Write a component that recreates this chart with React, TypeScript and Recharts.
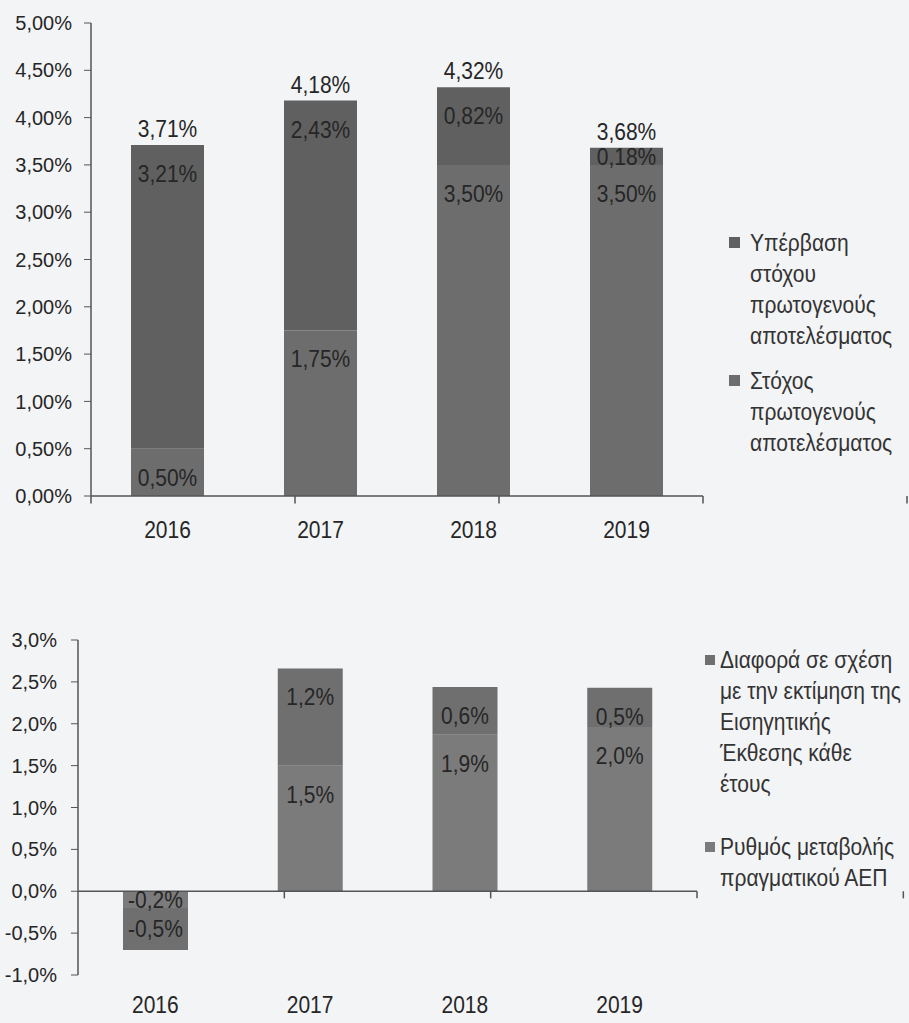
import { Bar, BarChart, LabelList, ReferenceLine, XAxis, YAxis } from 'recharts'

const YEARS = ['2016', '2017', '2018', '2019']

// top chart: primary balance target and overshoot (% of GDP)
const TARGET = [0.5, 1.75, 3.5, 3.5]
const OVERSHOOT = [3.21, 2.43, 0.82, 0.18]
const TOP_TICKS = [0, 0.5, 1, 1.5, 2, 2.5, 3, 3.5, 4, 4.5, 5]

// bottom chart: real GDP growth and difference from the budget report estimate
const GDP_GROWTH = [-0.2, 1.5, 1.87, 1.96]
const GDP_DIFF = [-0.5, 1.16, 0.57, 0.47]
const BOTTOM_TICKS = [-1, -0.5, 0, 0.5, 1, 1.5, 2, 2.5, 3]

const EDGES = [0, 1, 2, 3, 4]

const C_OVER = '#606060'
const C_TARGET = '#6d6d6d'
const C_DIFF = '#6f6f6f'
const C_GROWTH = '#7b7b7b'

const TOP_LEGEND = [
  { lines: ['Υπέρβαση', 'στόχου', 'πρωτογενούς', 'αποτελέσματος'], color: C_OVER },
  { lines: ['Στόχος', 'πρωτογενούς', 'αποτελέσματος'], color: C_TARGET },
]
const BOTTOM_LEGEND = [
  {
    lines: ['Διαφορά σε σχέση', 'με την εκτίμηση της', 'Εισηγητικής', 'Έκθεσης κάθε', 'έτους'],
    color: C_DIFF,
  },
  { lines: ['Ρυθμός μεταβολής', 'πραγματικού ΑΕΠ'], color: C_GROWTH },
]

const FONT = "'Liberation Sans', Arial, sans-serif"
const TEXT = '#262626'
const AXIS = '#555'
const SQUEEZE = 0.875 // the scan's text is condensed

const topData = YEARS.map((year, i) => ({
  year,
  target: TARGET[i],
  overshoot: OVERSHOOT[i],
  total: TARGET[i] + OVERSHOOT[i],
}))

const bottomData = YEARS.map((year, i) => ({
  year,
  growth: GDP_GROWTH[i],
  diff: GDP_DIFF[i],
}))

const pct = (digits: number) => (v: number) => {
  const s = Math.abs(v) < 1e-9 ? (0).toFixed(digits) : v.toFixed(digits)
  return s.replace('.', ',') + '%'
}

function Narrow({ x, y, children, dy }: any) {
  return (
    <text
      transform={`translate(${x} ${y}) scale(${SQUEEZE} 1)`}
      dy={dy}
      textAnchor="middle"
      fontSize={24}
      fontFamily={FONT}
      fill={TEXT}
    >
      {children}
    </text>
  )
}

function SegmentLabel(props: any) {
  const { x, y, width, height, value, digits } = props
  if (value == null) return null
  const top = Math.min(y, y + height)
  const h = Math.abs(height)
  const ty = value < 0 ? top + h / 2 + 8 : top + Math.min(37, h)
  return <Narrow x={x + width / 2} y={ty}>{pct(digits)(value)}</Narrow>
}

function TotalLabel(props: any) {
  const { x, y, width, value } = props
  return <Narrow x={x + width / 2} y={y - 8}>{pct(2)(value)}</Narrow>
}

function YearTick(props: any) {
  const { x, y, payload } = props
  return <Narrow x={x} y={y} dy="0.71em">{payload.value}</Narrow>
}

function HtmlLegend({ items, left, top, box, gap, itemGap }: any) {
  return (
    <div
      style={{
        position: 'absolute',
        left,
        top,
        fontFamily: FONT,
        fontSize: 24,
        lineHeight: '31px',
        color: '#333',
        whiteSpace: 'nowrap',
      }}
    >
      {items.map((item: any) => (
        <div key={item.lines[0]} style={{ display: 'flex', marginBottom: itemGap }}>
          <div
            style={{
              width: box,
              height: box,
              background: item.color,
              marginTop: 15.5 - box / 2,
              marginRight: gap,
              flexShrink: 0,
            }}
          />
          <div style={{ transform: `scaleX(${SQUEEZE})`, transformOrigin: 'left top' }}>
            {item.lines.map((l: string) => (
              <div key={l}>{l}</div>
            ))}
          </div>
        </div>
      ))}
    </div>
  )
}

export default function App() {
  return (
    <div style={{ position: 'absolute', left: 0, top: 0, width: 909, height: 1023, background: '#f3f4f6', overflow: 'hidden' }}>
      <div style={{ position: 'absolute', left: 0, top: 0 }}>
        <BarChart width={909} height={560} data={topData} margin={{ top: 23, right: 206, bottom: 24, left: 0 }}>
          <XAxis
            dataKey="year"
            axisLine={{ stroke: AXIS, strokeWidth: 1.5 }}
            tickLine={false}
            height={40}
            tickMargin={19}
            tick={<YearTick />}
          />
          <XAxis xAxisId="edge" type="number" domain={[0, 4]} allowDataOverflow hide />
          <YAxis
            width={91}
            domain={[0, 5]}
            ticks={TOP_TICKS}
            interval={0}
            tickFormatter={pct(2)}
            axisLine={{ stroke: AXIS, strokeWidth: 1.5 }}
            tickLine={{ stroke: AXIS }}
            tickSize={7}
            tickMargin={12}
            tick={{ fill: TEXT, fontSize: 20, fontFamily: FONT }}
          />
          <Bar dataKey="target" name="Στόχος πρωτογενούς αποτελέσματος" stackId="a" fill={C_TARGET} barSize={73} isAnimationActive={false}>
            <LabelList dataKey="target" content={(p: any) => <SegmentLabel {...p} digits={2} />} />
          </Bar>
          <Bar dataKey="overshoot" name="Υπέρβαση στόχου πρωτογενούς αποτελέσματος" stackId="a" fill={C_OVER} barSize={73} isAnimationActive={false}>
            <LabelList dataKey="overshoot" content={(p: any) => <SegmentLabel {...p} digits={2} />} />
            <LabelList dataKey="total" content={(p: any) => <TotalLabel {...p} />} />
          </Bar>
          {EDGES.map((e) => (
            <ReferenceLine
              key={e}
              xAxisId="edge"
              segment={[{ x: e, y: 0 }, { x: e, y: -0.08 }]}
              stroke={AXIS}
              strokeWidth={1.5}
              ifOverflow="visible"
            />
          ))}
        </BarChart>
      </div>
      <HtmlLegend items={TOP_LEGEND} left={729} top={227} box={11} gap={10} itemGap={14} />

      <div style={{ position: 'absolute', left: 0, top: 600 }}>
        <BarChart width={909} height={423} data={bottomData} margin={{ top: 40, right: 212, bottom: 8, left: 0 }}>
          <XAxis
            dataKey="year"
            axisLine={false}
            tickLine={false}
            height={40}
            tickMargin={15}
            tick={<YearTick />}
          />
          <XAxis xAxisId="edge" type="number" domain={[0, 4]} allowDataOverflow hide />
          <YAxis
            width={78}
            domain={[-1, 3]}
            ticks={BOTTOM_TICKS}
            interval={0}
            tickFormatter={pct(1)}
            axisLine={{ stroke: AXIS, strokeWidth: 1.5 }}
            tickLine={{ stroke: AXIS }}
            tickSize={7}
            tickMargin={14}
            tick={{ fill: TEXT, fontSize: 20, fontFamily: FONT }}
          />
          <Bar dataKey="growth" name="Ρυθμός μεταβολής πραγματικού ΑΕΠ" stackId="b" fill={C_GROWTH} barSize={65} isAnimationActive={false}>
            <LabelList dataKey="growth" content={(p: any) => <SegmentLabel {...p} digits={1} />} />
          </Bar>
          <Bar dataKey="diff" name="Διαφορά σε σχέση με την εκτίμηση της Εισηγητικής Έκθεσης κάθε έτους" stackId="b" fill={C_DIFF} barSize={65} isAnimationActive={false}>
            <LabelList dataKey="diff" content={(p: any) => <SegmentLabel {...p} digits={1} />} />
          </Bar>
          <ReferenceLine y={0} stroke={AXIS} strokeWidth={1.5} />
          {EDGES.slice(1).map((e) => (
            <ReferenceLine
              key={e}
              xAxisId="edge"
              segment={[{ x: e, y: 0 }, { x: e, y: -0.085 }]}
              stroke={AXIS}
              strokeWidth={1.5}
              ifOverflow="visible"
            />
          ))}
        </BarChart>
      </div>
      <HtmlLegend items={BOTTOM_LEGEND} left={705} top={644} box={10} gap={5} itemGap={32} />
    </div>
  )
}
